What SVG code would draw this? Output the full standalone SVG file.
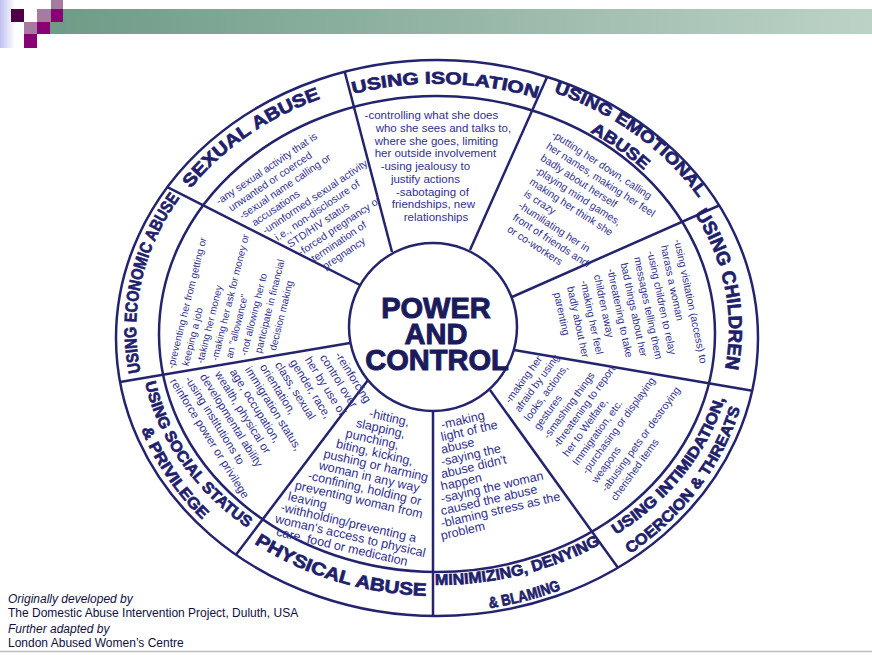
<svg xmlns="http://www.w3.org/2000/svg" width="872" height="655" viewBox="0 0 872 655">
<defs>
<linearGradient id="gBar" x1="0" y1="0" x2="1" y2="0"><stop offset="0" stop-color="#6e9b87"/><stop offset="1" stop-color="#bdd2c7"/></linearGradient>
<linearGradient id="gLav" x1="0" y1="0" x2="1" y2="0"><stop offset="0" stop-color="#bfbff0"/><stop offset="1" stop-color="#ffffff"/></linearGradient>
<path id="pIso" d="M309.1,108.5 A291.84,245.33 0 0 1 580.3,115.3"/>
<path id="pSex" d="M165.1,227.2 A297.6,250.2 0 0 1 365,86.2"/>
<path id="pEmo1" d="M512.2,80.8 A304.6,256.1 0 0 1 720.4,235.1"/>
<path id="pEmo2" d="M505,101 A281,236.3 0 0 1 698,242.5"/>
<path id="pChi" d="M673.1,184.8 A291.84,245.33 0 0 1 715.2,403.2"/>
<path id="pEco" d="M149.3,402.9 A300.8,252.9 0 0 1 200,173.3"/>
<path id="pPhy" d="M223.5,520.8 A303,259 0 0 0 464.5,594.9"/>
<path id="pSoc1" d="M141.2,359.3 A297,248 0 0 0 267.3,540.5"/>
<path id="pSoc2" d="M124.3,361.7 A314,275 0 0 0 257.6,562.7"/>
<path id="pMin1" d="M394.4,582.4 A297,248 0 0 0 634.8,522"/>
<path id="pMin2" d="M391.9,609.2 A314,275 0 0 0 646.1,542.2"/>
<path id="pInt1" d="M593.1,548 A297,248 0 0 0 730.9,372.8"/>
<path id="pInt2" d="M602,571 A314,275 0 0 0 747.7,376.7"/>
</defs>
<style>
.ln{fill:none;stroke:#24246e;stroke-width:2.5}
.lb{font-family:"Liberation Sans",Arial,Helvetica,sans-serif;font-weight:bold;fill:#1f1f6c;stroke:#1f1f6c;stroke-width:0.7;text-anchor:middle}
.ct{font-family:"Liberation Sans",Arial,Helvetica,sans-serif;fill:#30308c;font-size:10.5px}
.hub{font-family:"Liberation Sans",Arial,Helvetica,sans-serif;font-weight:bold;fill:#1b1b5c;stroke:#1b1b5c;stroke-width:1;font-size:29px;text-anchor:middle}
.ft{font-family:"Liberation Sans",Arial,Helvetica,sans-serif;font-size:12px;fill:#101040}
</style>
<rect width="872" height="655" fill="#ffffff"/>
<g id="header">
<rect x="0" y="0" width="15" height="48" fill="url(#gLav)"/>
<rect x="50" y="9" width="822" height="25" fill="url(#gBar)"/>
<rect x="11" y="9" width="13" height="13" fill="#4d0048"/>
<rect x="37" y="9" width="14" height="13" fill="#a57b9f"/>
<rect x="51" y="0" width="12" height="9" fill="#a57b9f"/>
<rect x="24" y="22" width="13" height="12" fill="#a57b9f"/>
<rect x="51" y="9" width="12" height="13" fill="#8b0072"/>
<rect x="37" y="22" width="13" height="12" fill="#8b0072"/>
<rect x="24" y="34" width="13" height="14" fill="#8b0072"/>
</g>
<g id="connectors">
<line class="ln" x1="392" y1="252" x2="344.7" y2="71.7"/>
<line class="ln" x1="470" y1="250" x2="547.2" y2="76.8"/>
<line class="ln" x1="512" y1="297" x2="719" y2="205.5"/>
<line class="ln" x1="514" y1="350" x2="752.4" y2="390.8"/>
<line class="ln" x1="490" y1="390" x2="617.8" y2="567.6"/>
<line class="ln" x1="433" y1="411" x2="433" y2="616"/>
<line class="ln" x1="368" y1="380" x2="236" y2="554.7"/>
<line class="ln" x1="350" y1="343" x2="120" y2="382.1"/>
<line class="ln" x1="360" y1="285" x2="167.4" y2="187.2"/>
</g>
<g id="wheel">
<ellipse class="ln" cx="437" cy="338" rx="321" ry="278" stroke-width="3"/>
<ellipse class="ln" cx="437" cy="334" rx="278" ry="238"/>
</g>
<g id="hub">
<circle cx="433" cy="327" r="84" fill="#ffffff" stroke="#24246e" stroke-width="2.5"/>
<text class="hub" x="436" y="318">POWER</text>
<text class="hub" x="436" y="344">AND</text>
<text class="hub" x="437" y="370">CONTROL</text>
</g>
<g id="isolation">
<text class="lb" font-size="17"><textPath href="#pIso" startOffset="50%" textLength="186" lengthAdjust="spacingAndGlyphs">USING ISOLATION</textPath></text>
<text class="ct" text-anchor="middle" style="font-size:11.5px">
<tspan x="433" y="119">-controlling what she does</tspan>
<tspan x="445" y="131.8">who she sees and talks to,</tspan>
<tspan x="438" y="144.5">where she goes, limiting</tspan>
<tspan x="437" y="157.3">her outside involvement</tspan>
<tspan x="427" y="170">-using jealousy to</tspan>
<tspan x="427" y="182.8">justify actions</tspan>
<tspan x="434" y="195.5">-sabotaging of</tspan>
<tspan x="435" y="208.3">friendships, new</tspan>
<tspan x="436" y="221">relationships</tspan>
</text>
</g>
<g id="sexual-abuse">
<text class="lb" font-size="18"><textPath href="#pSex" startOffset="50%" textLength="160" lengthAdjust="spacingAndGlyphs">SEXUAL ABUSE</textPath></text>
<text class="ct" transform="translate(219,205) rotate(-34)">
<tspan x="0" y="0">-any sexual activity that is</tspan>
<tspan x="6.5" y="12.6">unwanted or coerced</tspan>
<tspan x="11" y="25.2">-sexual name calling or</tspan>
<tspan x="17.5" y="37.8">accusations</tspan>
<tspan x="22" y="50.4">-uninformed sexual activity</tspan>
<tspan x="28.5" y="63">i.e., non-disclosure of</tspan>
<tspan x="35" y="75.6">STD/HIV status</tspan>
<tspan x="39.5" y="88.2">-forced pregnancy or</tspan>
<tspan x="47" y="100.8">termination of</tspan>
<tspan x="52" y="113.4">pregnancy</tspan>
</text>
</g>
<g id="emotional-abuse">
<text class="lb" font-size="16.5"><textPath href="#pEmo1" startOffset="50%" textLength="182" lengthAdjust="spacingAndGlyphs">USING EMOTIONAL</textPath></text>
<text class="lb" font-size="16.5"><textPath href="#pEmo2" startOffset="50%" textLength="66" lengthAdjust="spacingAndGlyphs">ABUSE</textPath></text>
<text class="ct" transform="translate(551,136) rotate(33)">
<tspan x="0" y="0">-putting her down, calling</tspan>
<tspan x="1.8" y="13">her names, making her feel</tspan>
<tspan x="3.6" y="26">badly about herself</tspan>
<tspan x="5.4" y="39">-playing mind games,</tspan>
<tspan x="7.2" y="52">making her think she</tspan>
<tspan x="9" y="65">is crazy</tspan>
<tspan x="10.8" y="78">-humiliating her in</tspan>
<tspan x="12.6" y="91">front of friends and/</tspan>
<tspan x="14.4" y="104">or co-workers</tspan>
</text>
</g>
<g id="children">
<text class="lb" font-size="19"><textPath href="#pChi" startOffset="50%" textLength="162" lengthAdjust="spacingAndGlyphs">USING CHILDREN</textPath></text>
<text class="ct" transform="translate(674,240) rotate(78)">
<tspan x="0" y="0">-using visitation (access) to</tspan>
<tspan x="3" y="14.3">harass a woman</tspan>
<tspan x="6" y="28.6">-using children to relay</tspan>
<tspan x="9" y="42.9">messages telling them</tspan>
<tspan x="12" y="57.2">bad things about her</tspan>
<tspan x="15" y="71.5">-threatening to take</tspan>
<tspan x="18" y="85.8">children away</tspan>
<tspan x="21" y="100.1">-making her feel</tspan>
<tspan x="24" y="114.4">badly about her</tspan>
<tspan x="27" y="128.7">parenting</tspan>
</text>
</g>
<g id="intimidation">
<text class="lb" font-size="15.5"><textPath href="#pInt1" startOffset="50%" textLength="178" lengthAdjust="spacingAndGlyphs">USING INTIMIDATION,</textPath></text>
<text class="lb" font-size="15.5"><textPath href="#pInt2" startOffset="50%" textLength="186" lengthAdjust="spacingAndGlyphs">COERCION &amp; THREATS</textPath></text>
<text class="ct" transform="translate(510,404) rotate(-54)">
<tspan x="0" y="0">-making her</tspan>
<tspan x="-1.5" y="13">afraid by using</tspan>
<tspan x="-3" y="26">looks, actions,</tspan>
<tspan x="-4.5" y="39">gestures</tspan>
<tspan x="-6" y="52">-smashing things</tspan>
<tspan x="-7.5" y="65">-threatening to report</tspan>
<tspan x="-9" y="78">her to Welfare,</tspan>
<tspan x="-10.5" y="91">Immigration, etc.</tspan>
<tspan x="-12" y="104">-purchasing or displaying</tspan>
<tspan x="-13.5" y="117">weapons</tspan>
<tspan x="-15" y="130">-abusing pets or destroying</tspan>
<tspan x="-16.5" y="143">cherished items</tspan>
</text>
</g>
<g id="minimizing">
<text class="lb" font-size="15.5"><textPath href="#pMin1" startOffset="50%" textLength="172" lengthAdjust="spacingAndGlyphs">MINIMIZING, DENYING</textPath></text>
<text class="lb" font-size="15.5"><textPath href="#pMin2" startOffset="50%" textLength="74" lengthAdjust="spacingAndGlyphs">&amp; BLAMING</textPath></text>
<text class="ct" style="font-size:12.5px" transform="translate(442,429) rotate(-13)">
<tspan x="0" y="0">-making</tspan>
<tspan x="-2.8" y="12">light of the</tspan>
<tspan x="-5.6" y="24">abuse</tspan>
<tspan x="-8.4" y="36">-saying the</tspan>
<tspan x="-11.2" y="48">abuse didn't</tspan>
<tspan x="-14" y="60">happen</tspan>
<tspan x="-16.8" y="72">-saying the woman</tspan>
<tspan x="-19.6" y="84">caused the abuse</tspan>
<tspan x="-22.4" y="96">-blaming stress as the</tspan>
<tspan x="-25.2" y="108">problem</tspan>
</text>
</g>
<g id="physical-abuse">
<text class="lb" font-size="18"><textPath href="#pPhy" startOffset="50%" textLength="182" lengthAdjust="spacingAndGlyphs">PHYSICAL ABUSE</textPath></text>
<text class="ct" style="font-size:12.5px" text-anchor="middle" transform="translate(390,422) rotate(13)">
<tspan x="0" y="0">-hitting,</tspan>
<tspan x="-5.8" y="12.4">slapping,</tspan>
<tspan x="-11.5" y="24.8">punching,</tspan>
<tspan x="-6.4" y="37.2">biting, kicking,</tspan>
<tspan x="-2.2" y="49.6">pushing or harming</tspan>
<tspan x="-6.1" y="62">woman in any way</tspan>
<tspan x="-8" y="74.4">-confining, holding or</tspan>
<tspan x="-11.1" y="86.8">preventing woman from</tspan>
<tspan x="-61" y="99.2">leaving</tspan>
<tspan x="-16" y="111.6">-withholding/preventing a</tspan>
<tspan x="-11.2" y="124">woman's access to physical</tspan>
<tspan x="-18.7" y="136.4">care, food or medication</tspan>
</text>
</g>
<g id="social-status">
<text class="lb" font-size="15.5"><textPath href="#pSoc1" startOffset="50%" textLength="182" lengthAdjust="spacingAndGlyphs">USING SOCIAL STATUS</textPath></text>
<text class="lb" font-size="15.5"><textPath href="#pSoc2" startOffset="50%" textLength="110" lengthAdjust="spacingAndGlyphs">&amp; PRIVILEGE</textPath></text>
<text class="ct" style="font-size:11.5px" transform="translate(334.6,355) rotate(58)">
<tspan x="0" y="0">-reinforcing</tspan>
<tspan x="-5.9" y="14">control over</tspan>
<tspan x="-11.8" y="28">her by use of</tspan>
<tspan x="-17.7" y="42">gender, race,</tspan>
<tspan x="-23.6" y="56">class, sexual</tspan>
<tspan x="-29.5" y="70">orientation,</tspan>
<tspan x="-35.4" y="84">immigration status,</tspan>
<tspan x="-41.3" y="98">age, occupation,</tspan>
<tspan x="-47.2" y="112">wealth, physical or</tspan>
<tspan x="-53.1" y="126">developmental ability</tspan>
<tspan x="-59" y="140">-using institutions to</tspan>
<tspan x="-64.9" y="154">reinforce power or privilege</tspan>
</text>
</g>
<g id="economic-abuse">
<text class="lb" font-size="17"><textPath href="#pEco" startOffset="50%" textLength="184" lengthAdjust="spacingAndGlyphs">USING ECONOMIC ABUSE</textPath></text>
<text class="ct" style="font-size:10px" transform="translate(174,369) rotate(-76)">
<tspan x="0" y="0">-preventing her from getting or</tspan>
<tspan x="6" y="13.5">keeping a job</tspan>
<tspan x="12" y="27">-taking her money</tspan>
<tspan x="18" y="40.5">-making her ask for money or</tspan>
<tspan x="24" y="54">an "allowance"</tspan>
<tspan x="30" y="67.5">-not allowing her to</tspan>
<tspan x="36" y="81">participate in financial</tspan>
<tspan x="42" y="94.5">decision making</tspan>
</text>
</g>
<g id="credits">
<text class="ft" x="8" y="603" font-style="italic" fill="#1a1a7a">Originally developed by</text>
<text class="ft" x="8" y="617">The Domestic Abuse Intervention Project, Duluth, USA</text>
<text class="ft" x="8" y="633" font-style="italic" fill="#1a1a7a">Further adapted by</text>
<text class="ft" x="8" y="647">London Abused Women’s Centre</text>
<line x1="0" y1="651.5" x2="872" y2="651.5" stroke="#bdbdbd" stroke-width="1.5"/>
</g>
</svg>
